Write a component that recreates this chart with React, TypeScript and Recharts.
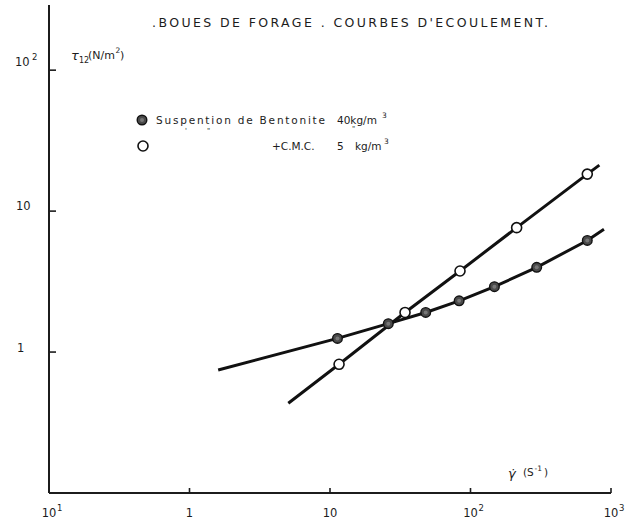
import { LineChart, Line, XAxis, YAxis } from 'recharts';

// flow curves: shear rate (1/s) vs shear stress (N/m2)
const bentoniteShear = [11.3, 26, 48, 83, 148, 296, 678];
const bentoniteStress = [1.25, 1.59, 1.91, 2.31, 2.91, 3.99, 6.19];
const bentoniteLineEnds = [[1.6, 0.746], [891, 7.43]];

const cmcShear = [11.6, 34.2, 84.2, 213, 678];
const cmcStress = [0.819, 1.91, 3.76, 7.63, 18.3];
const cmcLineEnds = [[5.05, 0.433], [826, 21.2]];

const shearTicks = [0.1, 1, 10, 100, 1000];
const shearTickLabels = [['10', '1'], ['1', ''], ['10', ''], ['10', '2'], ['10', '3']];
const stressTicks = [1, 10, 100];
const stressTickLabels = [['1', ''], ['10', ''], ['10', '2']];

const FONT = '"DejaVu Sans", sans-serif';
const INK = '#1c1c1c';

type Pt = { x: number; y: number; measured: boolean };

function buildSeries(shear: number[], stress: number[], ends: number[][]): Pt[] {
  const pts = shear.map((x, i) => ({ x, y: stress[i], measured: true }));
  return [
    { x: ends[0][0], y: ends[0][1], measured: false },
    ...pts,
    { x: ends[1][0], y: ends[1][1], measured: false },
  ];
}

const bentoniteData = buildSeries(bentoniteShear, bentoniteStress, bentoniteLineEnds);
const cmcData = buildSeries(cmcShear, cmcStress, cmcLineEnds);

const filledDot = (props: any) => {
  const { cx, cy, payload, index } = props;
  if (!payload?.measured) return <g key={`b-${index}`} />;
  return (
    <g key={`b-${index}`}>
      <circle cx={cx} cy={cy} r={4.8} fill="#4a4a4a" stroke="#111" strokeWidth={1.4} />
      <circle cx={cx} cy={cy} r={2} fill="#777" />
    </g>
  );
};

const openDot = (props: any) => {
  const { cx, cy, payload, index } = props;
  if (!payload?.measured) return <g key={`c-${index}`} />;
  return <circle key={`c-${index}`} cx={cx} cy={cy} r={5} fill="#fff" stroke="#111" strokeWidth={1.6} />;
};

const ShearTick = (props: any) => {
  const { x, y, payload } = props;
  const i = shearTicks.indexOf(payload.value);
  const [base, sup] = shearTickLabels[i] || ['', ''];
  return (
    <g>
      {i > 0 && <line x1={x} x2={x} y1={y} y2={y - 5} stroke={INK} strokeWidth={1.6} />}
      <text x={x} y={y + 24} textAnchor="middle" fontSize={11.5} fontFamily={FONT} fill={INK}>
        {base}
      </text>
      {sup && (
        <text x={x + 8} y={y + 18} fontSize={8.5} fontFamily={FONT} fill={INK}>
          {sup}
        </text>
      )}
    </g>
  );
};

const StressTick = (props: any) => {
  const { x, y, payload } = props;
  const i = stressTicks.indexOf(payload.value);
  const [base, sup] = stressTickLabels[i] || ['', ''];
  const offsets = [
    { bx: -32, by: 0 },
    { bx: -33, by: -1 },
    { bx: -34, by: -4 },
  ][i] || { bx: -30, by: 0 };
  return (
    <g>
      <line x1={x} x2={x + 7} y1={y} y2={y} stroke={INK} strokeWidth={1.6} />
      <text x={x + offsets.bx} y={y + offsets.by} fontSize={11.5} fontFamily={FONT} fill={INK}>
        {base}
      </text>
      {sup && (
        <text x={x - 17} y={y + offsets.by - 6} fontSize={8.5} fontFamily={FONT} fill={INK}>
          {sup}
        </text>
      )}
    </g>
  );
};

export default function App() {
  return (
    <div style={{ position: 'absolute', left: 0, top: 0, width: 638, height: 527, background: '#fff' }}>
      <LineChart width={638} height={527} margin={{ top: 5, right: 27, left: 0, bottom: 0 }}>
        <XAxis
          dataKey="x"
          type="number"
          scale="log"
          domain={[0.1, 1000]}
          ticks={shearTicks}
          allowDataOverflow
          height={34}
          tickSize={0}
          tickMargin={0}
          tickLine={false}
          axisLine={{ stroke: INK, strokeWidth: 2 }}
          tick={<ShearTick />}
          interval={0}
        />
        <YAxis
          type="number"
          scale="log"
          domain={[0.1, 290]}
          ticks={stressTicks}
          allowDataOverflow
          width={49}
          tickSize={0}
          tickMargin={0}
          tickLine={false}
          axisLine={{ stroke: INK, strokeWidth: 2 }}
          tick={<StressTick />}
          interval={0}
        />
        <Line
          data={cmcData}
          dataKey="y"
          type="linear"
          stroke="#111"
          strokeWidth={3}
          dot={openDot}
          activeDot={false}
          isAnimationActive={false}
        />
        <Line
          data={bentoniteData}
          dataKey="y"
          type="linear"
          stroke="#111"
          strokeWidth={3}
          dot={filledDot}
          activeDot={false}
          isAnimationActive={false}
        />
      </LineChart>

      <svg
        width={638}
        height={527}
        style={{ position: 'absolute', left: 0, top: 0, pointerEvents: 'none' }}
        fontFamily={FONT}
        fill={INK}
      >
        {/* title */}
        <text x={152} y={27} fontSize={12.5} textLength={396} lengthAdjust="spacing">
          .BOUES DE FORAGE . COURBES D'ECOULEMENT.
        </text>

        {/* y axis title */}
        <text x={71} y={60} fontSize={13} fontStyle="italic">τ</text>
        <text x={79} y={63} fontSize={8}>12</text>
        <text x={88} y={59} fontSize={11}>(N/m</text>
        <text x={115.5} y={53} fontSize={7.5}>2</text>
        <text x={120} y={59} fontSize={11}>)</text>

        {/* x axis title */}
        <text x={508} y={478} fontSize={13} fontStyle="italic">γ̇</text>
        <text x={523} y={476} fontSize={10.5}>(S</text>
        <text x={534.5} y={471} fontSize={7.5}>-1</text>
        <text x={544} y={476} fontSize={10.5}>)</text>

        {/* legend */}
        <circle cx={142} cy={120} r={4.8} fill="#4a4a4a" stroke="#111" strokeWidth={1.4} />
        <circle cx={142} cy={120} r={2} fill="#777" />
        <text x={156} y={124} fontSize={10.5} textLength={169} lengthAdjust="spacing">
          Suspention de Bentonite
        </text>
        <text x={337} y={124} fontSize={10.5}>40kg/m</text>
        <text x={382} y={118} fontSize={7.5}>3</text>
        <text x={185} y={133} fontSize={7}>'</text>
        <text x={207} y={133} fontSize={7}>"</text>
        <text x={352} y={131} fontSize={7}>"</text>

        <circle cx={143} cy={146} r={5} fill="#fff" stroke="#111" strokeWidth={1.6} />
        <text x={272} y={150} fontSize={10.5}>+C.M.C.</text>
        <text x={337} y={150} fontSize={10.5}>5</text>
        <text x={355} y={150} fontSize={10.5}>kg/m</text>
        <text x={384} y={144} fontSize={7.5}>3</text>
      </svg>
    </div>
  );
}
